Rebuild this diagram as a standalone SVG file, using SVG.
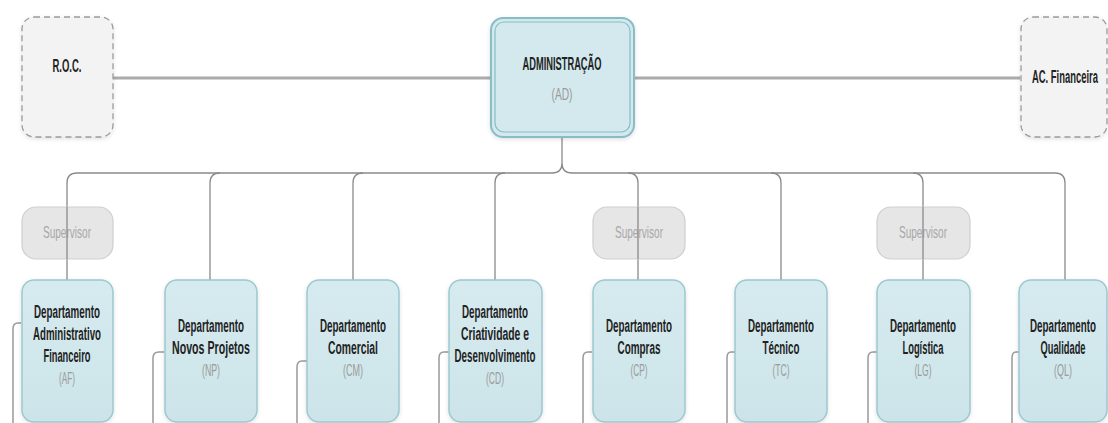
<svg xmlns="http://www.w3.org/2000/svg" width="1108" height="423" viewBox="0 0 1108 423">
<defs>
<filter id="sh" x="-20%" y="-20%" width="140%" height="140%"><feDropShadow dx="0" dy="1.5" stdDeviation="2" flood-color="#000" flood-opacity="0.12"/></filter>
<linearGradient id="dg" x1="0" y1="0" x2="0" y2="1"><stop offset="0" stop-color="#d6ebef"/><stop offset="1" stop-color="#cce4e9"/></linearGradient>
</defs>
<style>
.side{fill:#f3f3f3;stroke:#9a9a9a;stroke-width:1.3;stroke-dasharray:6 4}
.dept{fill:url(#dg);stroke:#9cc8d0;stroke-width:1.5}
.sup{fill:#e6e6e6;stroke:#cfcfcf;stroke-width:1.2}
.t{font-family:"Liberation Sans",Arial,sans-serif;font-weight:bold;font-size:18px;fill:#222;text-anchor:middle}
.a{font-family:"Liberation Sans",Arial,sans-serif;font-size:17px;fill:#9a9a9a;text-anchor:middle}
.s{font-family:"Liberation Sans",Arial,sans-serif;font-size:16px;fill:#a8a8a8;text-anchor:middle}
.main{fill:none;stroke:#ababab;stroke-width:3}
.bus{fill:none;stroke:#8a8a8a;stroke-width:1.3}
.el{fill:none;stroke:#999;stroke-width:1.5}
</style>
<g id="connectors">
<path class="main" d="M113 78 H491 M634 78 H1020"/>
<path class="bus" d="M67 280 V183 Q67 173 77 173 H552 Q562 173 562 163 V137 M562 163 Q562 173 572 173 H1055 Q1065 173 1065 183 V280"/>
<path class="bus" d="M220 173 Q210 173 210 183 V280 M363 173 Q353 173 353 183 V280 M505 173 Q495 173 495 183 V280 M628 173 Q638 173 638 183 V280 M771 173 Q781 173 781 183 V280 M913 173 Q923 173 923 183 V280"/>
<path class="el" d="M21 323 H18 Q13 323 13 329 V423 M164 352 H159 Q153 352 153 358 V423 M307 361 H302 Q297 361 297 367 V423 M449 352 H444 Q439 352 439 358 V423 M592 352 H588 Q583 352 583 358 V423 M735 352 H731 Q727 352 727 358 V423 M877 352 H873 Q868 352 868 358 V423 M1019 352 H1016 Q1012 352 1012 358 V423"/>
</g>
<g id="roc"><rect class="side" x="22" y="17" width="91" height="120" rx="12" filter="url(#sh)"/><text class="t" x="67" y="72" font-size="18" textLength="29" lengthAdjust="spacingAndGlyphs">R.O.C.</text></g>
<g id="acf"><rect class="side" x="1021" y="17" width="86" height="120" rx="12" filter="url(#sh)"/><text class="t" x="1065" y="83" textLength="66" lengthAdjust="spacingAndGlyphs">AC. Financeira</text></g>
<g id="ad"><rect x="491" y="18" width="143" height="119" rx="12" fill="#d3e9ee" stroke="#88bdc6" stroke-width="2" filter="url(#sh)"/><rect x="495" y="22" width="135" height="110" rx="9" fill="none" stroke="#88bdc6" stroke-width="1.2"/>
<text class="t" x="562" y="70" textLength="79" lengthAdjust="spacingAndGlyphs">ADMINISTRAÇÃO</text><text class="a" x="562" y="100" textLength="21" lengthAdjust="spacingAndGlyphs">(AD)</text></g>
<g id="sup-af"><rect class="sup" x="22" y="207" width="91" height="52" rx="14"/><text class="s" x="67" y="238" textLength="48" lengthAdjust="spacingAndGlyphs">Supervisor</text></g>
<g id="sup-cp"><rect class="sup" x="593" y="207" width="92" height="52" rx="14"/><text class="s" x="639" y="238" textLength="48" lengthAdjust="spacingAndGlyphs">Supervisor</text></g>
<g id="sup-lg"><rect class="sup" x="877" y="207" width="93" height="52" rx="14"/><text class="s" x="923" y="238" textLength="48" lengthAdjust="spacingAndGlyphs">Supervisor</text></g>
<path class="bus" d="M67 207 V259 M638 207 V259 M923 207 V259"/>
<g id="af"><rect class="dept" x="22" y="280" width="91" height="142" rx="12" filter="url(#sh)"/>
<text class="t" x="67" y="318" textLength="66" lengthAdjust="spacingAndGlyphs">Departamento</text><text class="t" x="67" y="340" textLength="68" lengthAdjust="spacingAndGlyphs">Administrativo</text><text class="t" x="67" y="362" textLength="47" lengthAdjust="spacingAndGlyphs">Financeiro</text><text class="a" x="67" y="384" textLength="16" lengthAdjust="spacingAndGlyphs">(AF)</text></g>
<g id="np"><rect class="dept" x="165" y="280" width="92" height="142" rx="12" filter="url(#sh)"/>
<text class="t" x="211" y="332" textLength="66" lengthAdjust="spacingAndGlyphs">Departamento</text><text class="t" x="211" y="354" textLength="78" lengthAdjust="spacingAndGlyphs">Novos Projetos</text><text class="a" x="211" y="376" textLength="18" lengthAdjust="spacingAndGlyphs">(NP)</text></g>
<g id="cm"><rect class="dept" x="307" y="280" width="92" height="142" rx="12" filter="url(#sh)"/>
<text class="t" x="353" y="332" textLength="66" lengthAdjust="spacingAndGlyphs">Departamento</text><text class="t" x="353" y="354" textLength="50" lengthAdjust="spacingAndGlyphs">Comercial</text><text class="a" x="353" y="376" textLength="20" lengthAdjust="spacingAndGlyphs">(CM)</text></g>
<g id="cd"><rect class="dept" x="449" y="280" width="93" height="142" rx="12" filter="url(#sh)"/>
<text class="t" x="495" y="318" textLength="66" lengthAdjust="spacingAndGlyphs">Departamento</text><text class="t" x="495" y="340" textLength="68" lengthAdjust="spacingAndGlyphs">Criatividade e</text><text class="t" x="495" y="362" textLength="81" lengthAdjust="spacingAndGlyphs">Desenvolvimento</text><text class="a" x="495" y="384" textLength="18" lengthAdjust="spacingAndGlyphs">(CD)</text></g>
<g id="cp"><rect class="dept" x="593" y="280" width="92" height="142" rx="12" filter="url(#sh)"/>
<text class="t" x="639" y="332" textLength="66" lengthAdjust="spacingAndGlyphs">Departamento</text><text class="t" x="639" y="354" textLength="43" lengthAdjust="spacingAndGlyphs">Compras</text><text class="a" x="639" y="376" textLength="17" lengthAdjust="spacingAndGlyphs">(CP)</text></g>
<g id="tc"><rect class="dept" x="735" y="280" width="92" height="142" rx="12" filter="url(#sh)"/>
<text class="t" x="781" y="332" textLength="66" lengthAdjust="spacingAndGlyphs">Departamento</text><text class="t" x="781" y="354" textLength="37" lengthAdjust="spacingAndGlyphs">Técnico</text><text class="a" x="781" y="376" textLength="17" lengthAdjust="spacingAndGlyphs">(TC)</text></g>
<g id="lg"><rect class="dept" x="877" y="280" width="93" height="142" rx="12" filter="url(#sh)"/>
<text class="t" x="923" y="332" textLength="66" lengthAdjust="spacingAndGlyphs">Departamento</text><text class="t" x="923" y="354" textLength="41" lengthAdjust="spacingAndGlyphs">Logística</text><text class="a" x="923" y="376" textLength="17" lengthAdjust="spacingAndGlyphs">(LG)</text></g>
<g id="ql"><rect class="dept" x="1019" y="280" width="88" height="142" rx="12" filter="url(#sh)"/>
<text class="t" x="1063" y="332" textLength="66" lengthAdjust="spacingAndGlyphs">Departamento</text><text class="t" x="1063" y="354" textLength="45" lengthAdjust="spacingAndGlyphs">Qualidade</text><text class="a" x="1063" y="376" textLength="18" lengthAdjust="spacingAndGlyphs">(QL)</text></g>
</svg>
